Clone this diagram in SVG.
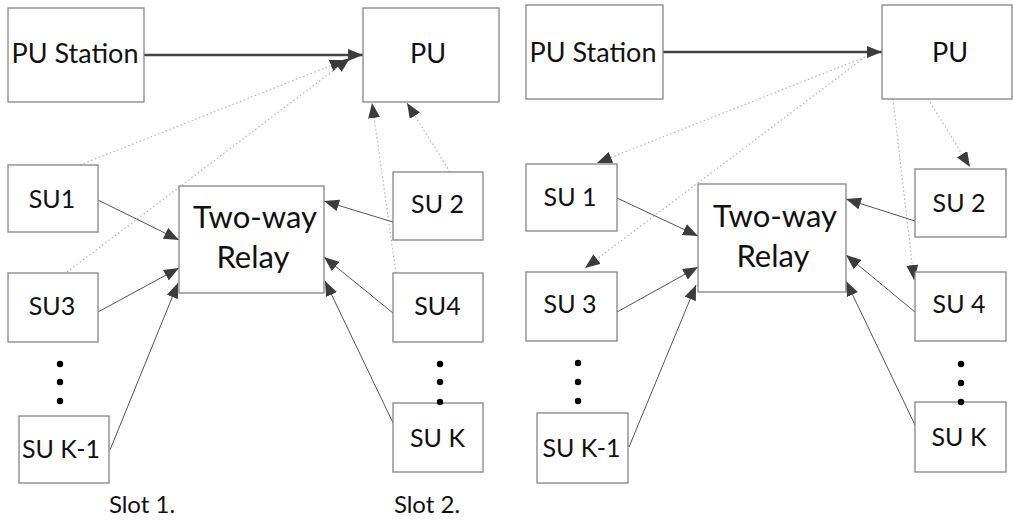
<svg xmlns="http://www.w3.org/2000/svg" width="1013" height="523" viewBox="0 0 1013 523">
<defs>
<marker id="ah" markerUnits="userSpaceOnUse" markerWidth="16" markerHeight="12" refX="15" refY="6" orient="auto">
<path d="M0,0 L15,6 L0,12 z" fill="#3c3c3c"/>
</marker>
<style>
.box{fill:#fff;stroke:#858585;stroke-width:1.3}
.t{font-family:Lato,"Liberation Sans",sans-serif;fill:#111;text-anchor:middle}
.big{font-size:27px}
.su{font-size:25px}
.rel{font-size:31px}
.slot{font-size:24px}
.main{stroke:#444;stroke-width:2.5;fill:none;marker-end:url(#ah)}
.link{stroke:#555;stroke-width:1;fill:none;marker-end:url(#ah)}
.dot{stroke:#b5b5b5;stroke-width:1.2;stroke-dasharray:1.5 2.5;fill:none;marker-end:url(#ah)}
.ell{fill:#000}
</style>
</defs>
<rect width="1013" height="523" fill="#fff"/>

<g id="connectors">
<line class="main" x1="144" y1="55" x2="363" y2="55"/>
<line class="dot" x1="80" y1="165" x2="345" y2="60"/>
<line class="dot" x1="67" y1="272" x2="350" y2="58"/>
<line class="dot" x1="396" y1="273" x2="372" y2="103"/>
<line class="dot" x1="450" y1="172" x2="407" y2="103"/>
<line class="link" x1="98" y1="200" x2="179" y2="240"/>
<line class="link" x1="98" y1="312" x2="179" y2="268"/>
<line class="link" x1="110" y1="450" x2="178" y2="283"/>
<line class="link" x1="393" y1="222" x2="324" y2="201"/>
<line class="link" x1="393" y1="313" x2="324" y2="257"/>
<line class="link" x1="395" y1="427" x2="325" y2="281"/>

<line class="main" x1="663" y1="52" x2="882" y2="52"/>
<line class="dot" x1="865" y1="57" x2="597" y2="163"/>
<line class="dot" x1="865" y1="57" x2="585" y2="268"/>
<line class="dot" x1="893" y1="99" x2="914" y2="280"/>
<line class="dot" x1="928" y1="99" x2="970" y2="167"/>
<line class="link" x1="617" y1="198" x2="698" y2="236"/>
<line class="link" x1="617" y1="312" x2="698" y2="267"/>
<line class="link" x1="629" y1="447" x2="696" y2="285"/>
<line class="link" x1="915" y1="221" x2="846" y2="199"/>
<line class="link" x1="915" y1="312" x2="846" y2="255"/>
<line class="link" x1="915" y1="425" x2="846" y2="281"/>
</g>

<g id="l-pustation"><rect class="box" x="8" y="8" width="136" height="94"/><text class="t big" x="75" y="63">PU Station</text></g>
<g id="l-pu"><rect class="box" x="363" y="8" width="136" height="94"/><text class="t big" x="428" y="63">PU</text></g>
<g id="l-su1"><rect class="box" x="8" y="165" width="90" height="67"/><text class="t su" x="52" y="208">SU1</text></g>
<g id="l-su3"><rect class="box" x="8" y="273" width="90" height="69"/><text class="t su" x="52" y="315">SU3</text></g>
<g id="l-relay"><rect class="box" x="179" y="186" width="145" height="107"/><text class="t rel" x="255" y="228">Two-way</text><text class="t rel" x="253" y="268">Relay</text></g>
<g id="l-su2"><rect class="box" x="393" y="172" width="90" height="68"/><text class="t su" x="437.5" y="213">SU 2</text></g>
<g id="l-su4"><rect class="box" x="393" y="273" width="90" height="69"/><text class="t su" x="437.5" y="315">SU4</text></g>
<g id="l-suk1"><rect class="box" x="19" y="416" width="90" height="67"/><text class="t su" x="61" y="458">SU K-1</text></g>
<g id="l-suk"><rect class="box" x="393" y="403" width="90" height="69"/><text class="t su" x="437.5" y="447">SU K</text></g>
<g id="l-dots"><circle class="ell" cx="60" cy="364" r="3.2"/><circle class="ell" cx="60" cy="382" r="3.2"/><circle class="ell" cx="60" cy="401" r="3.2"/><circle class="ell" cx="440" cy="364" r="3.2"/><circle class="ell" cx="440" cy="382" r="3.2"/><circle class="ell" cx="440" cy="402" r="3.2"/></g>
<g id="slot1"><text class="t slot" x="142" y="513">Slot 1.</text></g>
<g id="slot2"><text class="t slot" x="427" y="513">Slot 2.</text></g>

<g id="r-pustation"><rect class="box" x="526" y="5" width="137" height="94"/><text class="t big" x="593" y="62">PU Station</text></g>
<g id="r-pu"><rect class="box" x="882" y="5" width="130" height="94"/><text class="t big" x="950" y="62">PU</text></g>
<g id="r-su1"><rect class="box" x="526" y="164" width="91" height="67"/><text class="t su" x="570" y="206">SU 1</text></g>
<g id="r-su3"><rect class="box" x="526" y="272" width="91" height="69"/><text class="t su" x="570" y="313">SU 3</text></g>
<g id="r-relay"><rect class="box" x="698" y="184" width="148" height="108"/><text class="t rel" x="775" y="227">Two-way</text><text class="t rel" x="773" y="267">Relay</text></g>
<g id="r-su2"><rect class="box" x="915" y="169" width="91" height="68"/><text class="t su" x="959" y="212">SU 2</text></g>
<g id="r-su4"><rect class="box" x="915" y="272" width="91" height="69"/><text class="t su" x="959" y="313">SU 4</text></g>
<g id="r-suk1"><rect class="box" x="537" y="413" width="91" height="70"/><text class="t su" x="581.5" y="457">SU K-1</text></g>
<g id="r-suk"><rect class="box" x="915" y="402" width="91" height="70"/><text class="t su" x="959" y="446">SU K</text></g>
<g id="r-dots"><circle class="ell" cx="578" cy="363" r="3.2"/><circle class="ell" cx="578" cy="382" r="3.2"/><circle class="ell" cx="578" cy="401" r="3.2"/><circle class="ell" cx="961" cy="364" r="3.2"/><circle class="ell" cx="961" cy="383" r="3.2"/><circle class="ell" cx="961" cy="402" r="3.2"/></g>
</svg>
